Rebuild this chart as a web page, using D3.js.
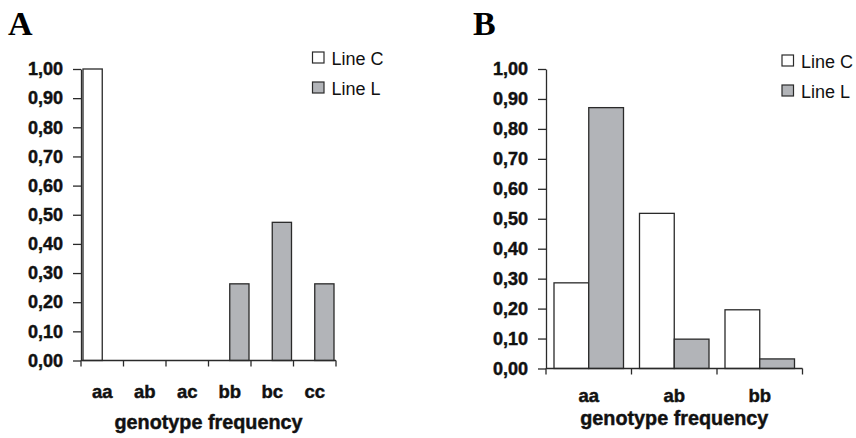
<!DOCTYPE html>
<html>
<head>
<meta charset="utf-8">
<script src="https://cdn.jsdelivr.net/npm/d3@7"></script>
<style>
  html, body { margin: 0; padding: 0; background: #fff; }
  svg { display: block; }
</style>
</head>
<body>
<svg id="chart" width="856" height="438"></svg>
<script>
// ---- data ----
const seriesNames = ["Line C", "Line L"];
const categoriesA = ["aa", "ab", "ac", "bb", "bc", "cc"];
const lineC_A = [1.00, 0, 0, 0, 0, 0];
const lineL_A = [0, 0, 0, 0.263, 0.474, 0.263];
const categoriesB = ["aa", "ab", "bb"];
const lineC_B = [0.286, 0.518, 0.196];
const lineL_B = [0.871, 0.098, 0.032];
const yTickValues = [0, 0.1, 0.2, 0.3, 0.4, 0.5, 0.6, 0.7, 0.8, 0.9, 1.0];
const yTickLabels = ["0,00", "0,10", "0,20", "0,30", "0,40", "0,50", "0,60", "0,70", "0,80", "0,90", "1,00"];
const xTitle = "genotype frequency";
const panelLabels = ["A", "B"];

// ---- styles ----
const fills = { "Line C": "#ffffff", "Line L": "#b2b4b8" };
const stroke = "#2a2a2a";
const sans = "'Liberation Sans', Arial, Helvetica, sans-serif";
const serif = "'Liberation Serif', 'Times New Roman', serif";

const svg = d3.select("#chart");

function heavy(sel) {
  return sel.attr("stroke", "#111").attr("stroke-width", 0.45).attr("paint-order", "stroke");
}

function panel(cfg) {
  const g = svg.append("g");
  const y = d3.scaleLinear().domain([0, 1]).range([cfg.y0, cfg.y1]);
  const x0 = d3.scaleBand().domain(cfg.categories).range([cfg.xL, cfg.xR]).paddingInner(0).paddingOuter(0);
  const x1 = d3.scaleBand().domain(seriesNames).range([cfg.gap, x0.bandwidth() - cfg.gap]);

  const rows = [];
  cfg.categories.forEach((c, i) => {
    rows.push({ cat: c, s: "Line C", v: cfg.c[i] });
    rows.push({ cat: c, s: "Line L", v: cfg.l[i] });
  });

  g.selectAll("rect.bar").data(rows.filter(d => d.v > 0)).join("rect")
    .attr("class", "bar")
    .attr("x", d => x0(d.cat) + x1(d.s))
    .attr("width", x1.bandwidth())
    .attr("y", d => y(d.v))
    .attr("height", d => y(0) - y(d.v))
    .attr("fill", d => fills[d.s])
    .attr("stroke", stroke)
    .attr("stroke-width", 1.3);

  // y axis
  const yAxis = d3.axisLeft(y).tickValues(yTickValues)
    .tickFormat((d, i) => yTickLabels[i]).tickSize(8).tickPadding(10).tickSizeOuter(0);
  const ya = g.append("g").attr("transform", `translate(${cfg.xL},0)`).call(yAxis);
  ya.select(".domain").attr("stroke", stroke).attr("stroke-width", 1.3);
  ya.selectAll(".tick line").attr("stroke", stroke).attr("stroke-width", 1.3);
  heavy(ya.selectAll(".tick text").attr("font-family", sans).attr("font-size", 18)
    .attr("font-weight", "bold").attr("fill", "#111"));

  // x axis line with ticks at band boundaries
  g.append("line").attr("x1", cfg.xL).attr("x2", cfg.xR).attr("y1", y(0)).attr("y2", y(0))
    .attr("stroke", stroke).attr("stroke-width", 1.3);
  const bounds = cfg.categories.map(c => x0(c)).concat([x0.range()[1]]);
  g.selectAll("line.xt").data(bounds).join("line").attr("class", "xt")
    .attr("x1", d => d).attr("x2", d => d).attr("y1", y(0)).attr("y2", y(0) + 6)
    .attr("stroke", stroke).attr("stroke-width", 1.3);

  heavy(g.selectAll("text.xl").data(cfg.categories).join("text").attr("class", "xl")
    .attr("x", d => x0(d) + x0.bandwidth() / 2).attr("y", cfg.xLabelY)
    .attr("text-anchor", "middle").attr("font-family", sans).attr("font-size", 18.5)
    .attr("font-weight", "bold").attr("fill", "#111").text(d => d));

  heavy(g.append("text").attr("x", (cfg.xL + cfg.xR) / 2).attr("y", cfg.titleY)
    .attr("text-anchor", "middle").attr("font-family", sans).attr("font-size", 19.8)
    .attr("font-weight", "bold").attr("fill", "#111").text(xTitle));

  // panel letter
  g.append("text").attr("x", cfg.letterX).attr("y", 35)
    .attr("font-family", serif).attr("font-size", 34).attr("font-weight", "bold")
    .attr("fill", "#000").text(cfg.letter);

  // legend
  seriesNames.forEach((s, i) => {
    const ly = cfg.legY + i * 30;
    g.append("rect").attr("x", cfg.legX).attr("y", ly - 11).attr("width", 11.5).attr("height", 11)
      .attr("fill", fills[s]).attr("stroke", stroke).attr("stroke-width", 1.2);
    g.append("text").attr("x", cfg.legX + 19).attr("y", ly + 1.5)
      .attr("font-family", sans).attr("font-size", 18).attr("fill", "#111").text(s);
  });
}

panel({
  categories: categoriesA, c: lineC_A, l: lineL_A,
  xL: 81, xR: 336, y0: 360.5, y1: 69, gap: 2,
  xLabelY: 397.5, titleY: 428.5, letter: panelLabels[0], letterX: 8,
  legX: 312.5, legY: 63
});
panel({
  categories: categoriesB, c: lineC_B, l: lineL_B,
  xL: 546, xR: 802.5, y0: 368.5, y1: 69, gap: 8,
  xLabelY: 401.5, titleY: 425, letter: panelLabels[1], letterX: 473,
  legX: 782, legY: 66
});
</script>
</body>
</html>
